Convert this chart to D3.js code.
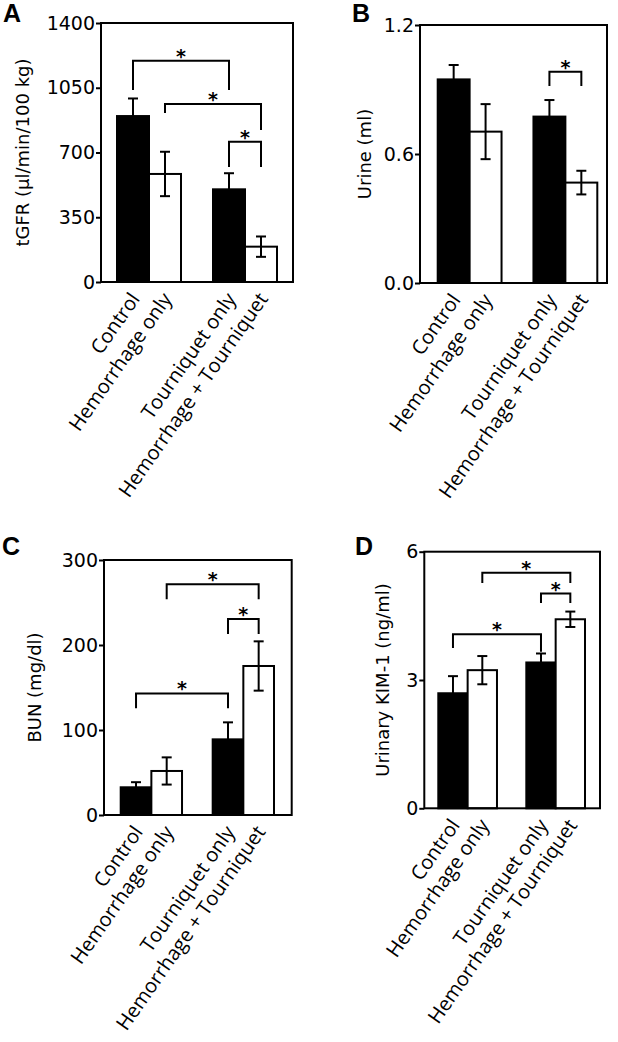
<!DOCTYPE html>
<html lang="en">
<head>
    <meta charset="UTF-8">
    <title>Kidney injury markers</title>
    <script src="https://d3js.org/d3.v7.min.js"></script>
    <style>
        body { margin: 0; background: #fff; }
        .tick text { font-family: "DejaVu Sans", Verdana, sans-serif; font-size: 19px; fill: #000; }
        .tick line { stroke: #000; stroke-width: 2; }
    </style>
</head>
<body>
    <div id="chart"></div>

    <script>
        // Groups (same order in every panel)
        const categories = ["Control", "Hemorrhage only", "Tourniquet only", "Hemorrhage + Tourniquet"];
        const barFills = ["#000", "#fff", "#000", "#fff"];

        // A: tGFR
        const tgfrMean = [897, 584, 501, 191];
        const tgfrErr = [95, 120, 87, 55];
        const tgfrTicks = [0, 350, 700, 1050, 1400];
        // [from, to, bar height, left leg end, right leg end]
        const tgfrSig = [[0, 2, 1196, 1038, 1038], [1, 3, 962, 913, 822], [2, 3, 758, 622, 622]];

        // B: urine
        const urineMean = [0.947, 0.704, 0.774, 0.467];
        const urineErr = [0.067, 0.128, 0.077, 0.055];
        const urineTicks = [0.0, 0.6, 1.2];
        const urineSig = [[2, 3, 0.983, 0.916, 0.916]];

        // C: BUN
        const bunMean = [32.6, 51.8, 89, 175.3];
        const bunErr = [6, 16, 20, 29];
        const bunTicks = [0, 100, 200, 300];
        const bunSig = [[0, 2, 143, 125.5, 125.5], [1, 3, 271.4, 253.8, 253.8], [2, 3, 230.6, 212.9, 212.9]];

        // D: urinary KIM-1
        const kimMean = [2.69, 3.23, 3.41, 4.42];
        const kimErr = [0.4, 0.33, 0.21, 0.18];
        const kimTicks = [0, 3, 6];
        const kimSig = [[0, 2, 4.07, 3.75, 3.66], [1, 3, 5.51, 5.27, 5.27], [2, 3, 5.02, 4.80, 4.80]];

        const svg = d3.select("#chart")
            .append("svg")
            .attr("width", 618)
            .attr("height", 1042);

        const panels = [
            { letter: "A", lx: 3, ly: 22, title: "tGFR (\u00b5l/min/100 kg)", tx: 22,
              x0: 101, x1: 293, y0: 23, y1: 282, b0: 117, b1: 277,
              mean: tgfrMean, err: tgfrErr, ticks: tgfrTicks, sig: tgfrSig, fmt: d3.format("d") },
            { letter: "B", lx: 352, ly: 22, title: "Urine (ml)", tx: 364,
              x0: 420, x1: 607, y0: 25, y1: 283, b0: 437.7, b1: 597.3,
              mean: urineMean, err: urineErr, ticks: urineTicks, sig: urineSig, fmt: d3.format(".1f") },
            { letter: "C", lx: 2, ly: 555, title: "BUN (mg/dl)", tx: 34,
              x0: 104, x1: 291.7, y0: 560, y1: 815, b0: 120.7, b1: 274,
              mean: bunMean, err: bunErr, ticks: bunTicks, sig: bunSig, fmt: d3.format("d") },
            { letter: "D", lx: 355, ly: 555, title: "Urinary KIM-1 (ng/ml)", tx: 382,
              x0: 424.3, x1: 600, y0: 551.7, y1: 808.3, b0: 438.3, b1: 585,
              mean: kimMean, err: kimErr, ticks: kimTicks, sig: kimSig, fmt: d3.format("d") }
        ];

        const drawPanel = (p) => {
            const g = svg.append("g");
            const rows = categories.map((c, i) => ({ cat: c, mean: p.mean[i], err: p.err[i], fill: barFills[i] }));

            // 4 bars + an empty slot between the two pairs
            const x = d3.scaleBand()
                .domain([categories[0], categories[1], "gap", categories[2], categories[3]])
                .range([p.b0, p.b1])
                .padding(0);
            const y = d3.scaleLinear()
                .domain([p.ticks[0], p.ticks[p.ticks.length - 1]])
                .range([p.y1, p.y0]);
            const cx = d => x(d) + x.bandwidth() / 2;

            // Bars
            g.selectAll(".bar")
                .data(rows)
                .enter()
                .append("rect")
                .attr("x", d => x(d.cat))
                .attr("y", d => y(d.mean))
                .attr("width", x.bandwidth())
                .attr("height", d => y(0) - y(d.mean))
                .attr("fill", d => d.fill)
                .attr("stroke", "#000")
                .attr("stroke-width", 2);

            // Error bars
            const eb = g.selectAll(".err")
                .data(rows)
                .enter()
                .append("g")
                .attr("stroke", "#000")
                .attr("stroke-width", 2);
            eb.append("line")
                .attr("x1", d => cx(d.cat)).attr("x2", d => cx(d.cat))
                .attr("y1", d => y(d.mean - d.err)).attr("y2", d => y(d.mean + d.err));
            eb.append("line")
                .attr("x1", d => cx(d.cat) - 5).attr("x2", d => cx(d.cat) + 5)
                .attr("y1", d => y(d.mean + d.err)).attr("y2", d => y(d.mean + d.err));
            eb.append("line")
                .attr("x1", d => cx(d.cat) - 5).attr("x2", d => cx(d.cat) + 5)
                .attr("y1", d => y(d.mean - d.err)).attr("y2", d => y(d.mean - d.err));

            // Significance brackets
            p.sig.forEach(s => {
                const xa = cx(categories[s[0]]), xb = cx(categories[s[1]]);
                g.append("path")
                    .attr("d", `M${xa},${y(s[3])}V${y(s[2])}H${xb}V${y(s[4])}`)
                    .attr("fill", "none")
                    .attr("stroke", "#000")
                    .attr("stroke-width", 2);
                g.append("text")
                    .attr("x", (xa + xb) / 2)
                    .attr("y", y(s[2]) + 2)
                    .attr("text-anchor", "middle")
                    .style("font-family", "DejaVu Sans, sans-serif")
                    .style("font-weight", "bold")
                    .style("font-size", "19px")
                    .text("*");
            });

            // Frame
            g.append("rect")
                .attr("x", p.x0).attr("y", p.y0)
                .attr("width", p.x1 - p.x0).attr("height", p.y1 - p.y0)
                .attr("fill", "none")
                .attr("stroke", "#000")
                .attr("stroke-width", 2);

            // Y axis
            g.append("g")
                .attr("transform", `translate(${p.x0},0)`)
                .call(d3.axisLeft(y).tickValues(p.ticks).tickFormat(p.fmt).tickSize(5).tickPadding(1))
                .call(a => a.select(".domain").remove());

            // Y title
            g.append("text")
                .attr("transform", `translate(${p.tx},${(p.y0 + p.y1) / 2}) rotate(-90)`)
                .attr("text-anchor", "middle")
                .attr("dominant-baseline", "central")
                .style("font-family", "DejaVu Sans, sans-serif")
                .style("font-size", "18px")
                .text(p.title);

            // Category labels
            g.selectAll(".cat")
                .data(rows)
                .enter()
                .append("text")
                .attr("transform", d => `translate(${cx(d.cat) + 2},${p.y1 + 13}) rotate(-55)`)
                .attr("text-anchor", "end")
                .attr("dy", "0.35em")
                .style("font-family", "Open Sans, sans-serif")
                .style("font-size", "20px")
                .text(d => d.cat);

            // Panel letter
            g.append("text")
                .attr("x", p.lx).attr("y", p.ly)
                .style("font-family", "Liberation Sans, Arial, sans-serif")
                .style("font-weight", "bold")
                .style("font-size", "25px")
                .text(p.letter);
        };

        panels.forEach(drawPanel);
    </script>
</body>
</html>
